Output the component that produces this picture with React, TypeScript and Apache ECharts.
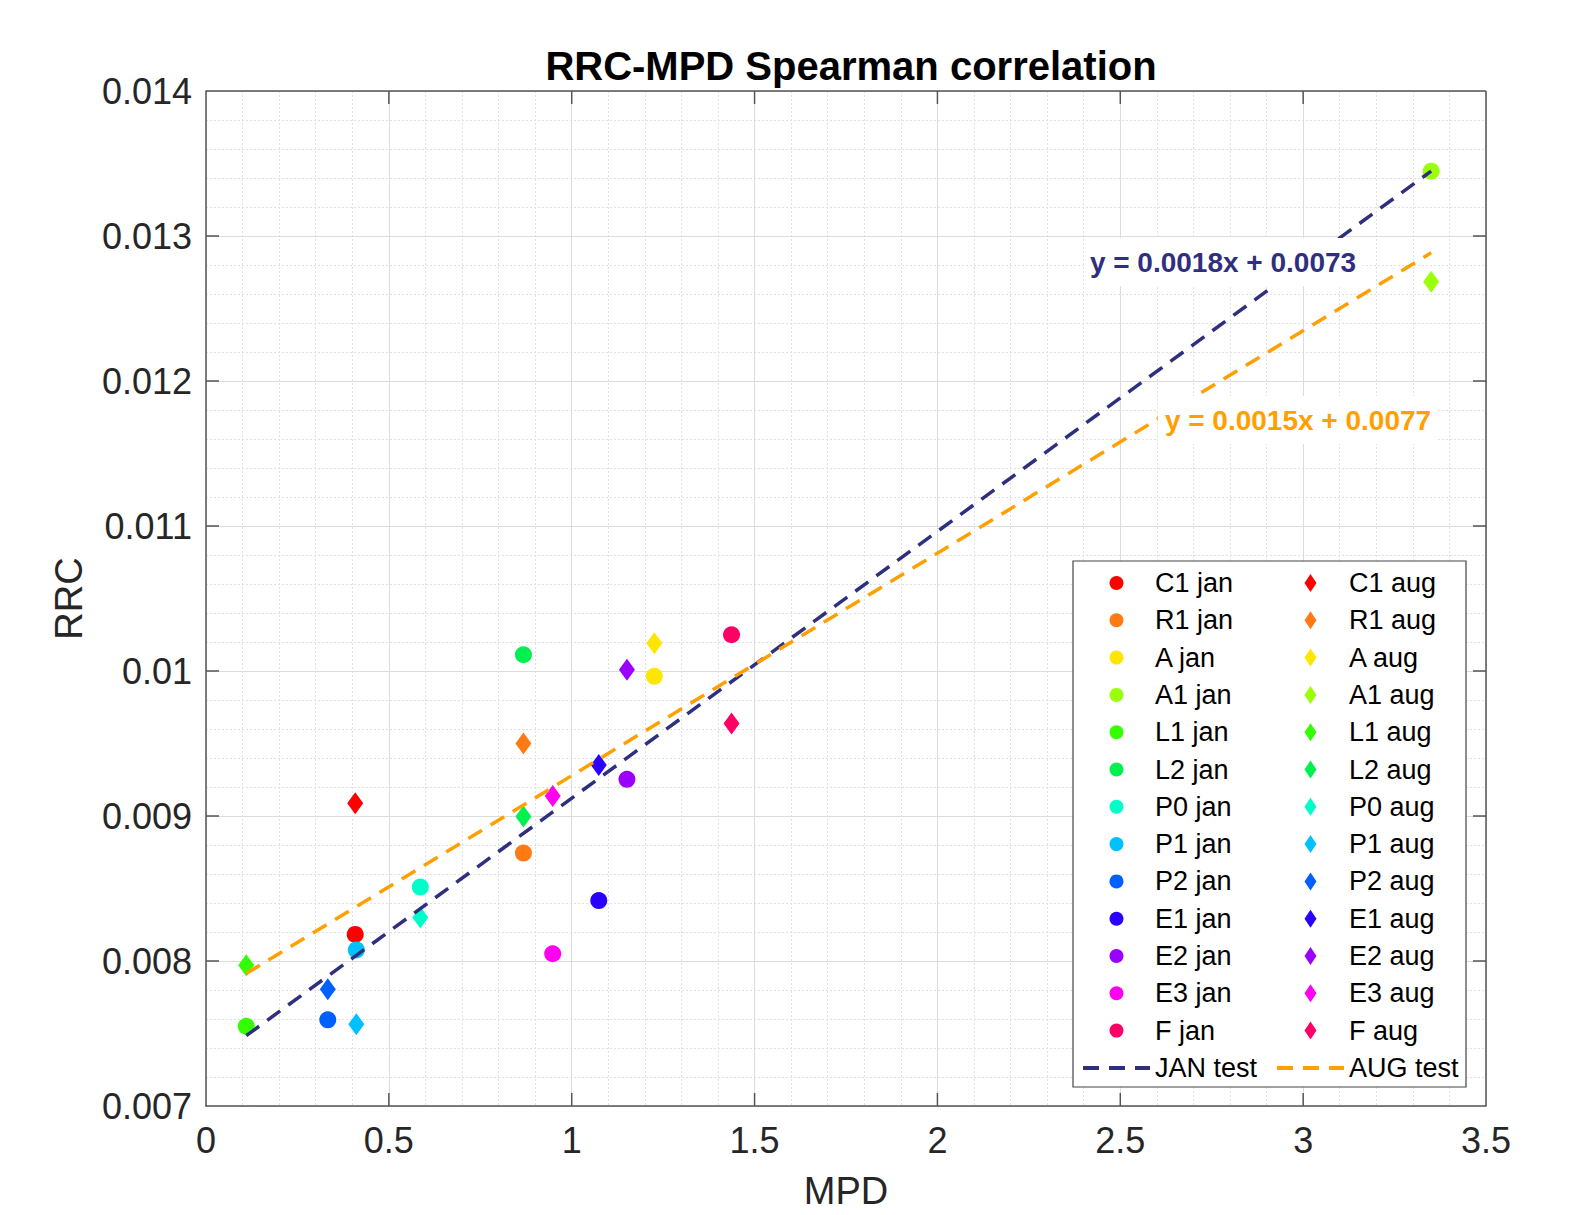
import React, { useEffect, useRef } from "react";
import * as echarts from "echarts";

const FONT = "Liberation Sans";

const siteNames = ["C1", "R1", "A", "A1", "L1", "L2", "P0", "P1", "P2", "E1", "E2", "E3", "F"];
const siteColors = [
  "#ff0000", "#ff7a14", "#ffe600", "#9cff0a", "#33ff00", "#00f050", "#00ffc8",
  "#00c0ff", "#0060ff", "#2a00ff", "#9900ff", "#ff00f0", "#ff0066",
];
const mpdValues = [0.408, 0.868, 1.226, 3.35, 0.11, 0.868, 0.586, 0.411, 0.333, 1.074, 1.151, 0.948, 1.437];
const rrcJan = [0.008183, 0.008744, 0.009963, 0.013447, 0.00755, 0.010112, 0.00851, 0.008076, 0.007594, 0.008417, 0.009253, 0.00805, 0.01025];
const rrcAug = [0.009088, 0.0095, 0.010192, 0.012685, 0.00797, 0.008997, 0.0083, 0.007564, 0.007805, 0.009351, 0.010009, 0.009138, 0.009638];

const janFitX = [0.11, 3.35];
const janFitY = [0.007485, 0.013447];
const augFitX = [0.11, 3.35];
const augFitY = [0.007913, 0.012884];

const janEquation = "y = 0.0018x + 0.0073";
const augEquation = "y = 0.0015x + 0.0077";

const xTicks = [0, 0.5, 1, 1.5, 2, 2.5, 3, 3.5];
const yTicks = [0.007, 0.008, 0.009, 0.01, 0.011, 0.012, 0.013, 0.014];

const JAN_COLOR = "#2f2f80";
const AUG_COLOR = "#ffa000";
const DIAMOND_ICON = "path://M6,0 L12,9 L6,18 L0,9 Z";
const TICK_LEN = 13;
const AXIS_COLOR = "#555";

export default function App() {
  const ref = useRef<HTMLDivElement>(null);

  useEffect(() => {
    document.body.style.margin = "0";
    const chart = echarts.init(ref.current!, null, { renderer: "svg" });

    const janSeries = siteNames.map((n, i) => ({
      name: `${n} jan`,
      type: "scatter",
      symbol: "circle",
      symbolSize: 17,
      z: 2,
      itemStyle: { color: siteColors[i], opacity: 1 },
      data: [[mpdValues[i], rrcJan[i]]],
    }));
    const augSeries = siteNames.map((n, i) => ({
      name: `${n} aug`,
      type: "scatter",
      symbol: "diamond",
      symbolSize: [16, 22],
      z: 2,
      itemStyle: { color: siteColors[i], opacity: 1 },
      data: [[mpdValues[i], rrcAug[i]]],
    }));
    const lineSeries = [
      {
        name: "JAN test",
        type: "line",
        symbol: "none",
        z: 4,
        lineStyle: { color: JAN_COLOR, width: 3.5, type: [16, 10] },
        itemStyle: { color: JAN_COLOR },
        data: janFitX.map((x, i) => [x, janFitY[i]]),
      },
      {
        name: "AUG test",
        type: "line",
        symbol: "none",
        z: 4,
        lineStyle: { color: AUG_COLOR, width: 3.5, type: [16, 10] },
        itemStyle: { color: AUG_COLOR },
        data: augFitX.map((x, i) => [x, augFitY[i]]),
      },
    ];

    const axisLineStyle = { color: AXIS_COLOR, width: 1.5 };
    const labelStyle = { fontFamily: FONT, fontSize: 36, color: "#262626" };
    const xMin = xTicks[0];
    const xMax = xTicks[xTicks.length - 1];
    const yMin = yTicks[0];
    const yMax = yTicks[yTicks.length - 1];

    const legendCommon = {
      orient: "vertical",
      top: 569.5,
      padding: 0,
      itemGap: 10.3,
      itemWidth: 67,
      selectedMode: false,
      textStyle: { fontFamily: FONT, fontSize: 27, lineHeight: 27, color: "#000" },
      lineStyle: { width: 4 },
    };
    const hiddenSymbol = { color: "rgba(0,0,0,0)", borderWidth: 0, opacity: 0 };

    const baseGraphics: any[] = [
      {
        id: "legendBox",
        type: "rect",
        z: 3,
        shape: { x: 1073, y: 561, width: 393, height: 526 },
        style: { fill: "#fff", stroke: "#444", lineWidth: 1.2 },
      },
      {
        id: "janEq",
        type: "text",
        z: 10,
        x: 1223,
        y: 262,
        style: {
          text: janEquation,
          fill: JAN_COLOR,
          font: `bold 28px "${FONT}"`,
          align: "center",
          verticalAlign: "middle",
          backgroundColor: "#fff",
          padding: [10, 6],
        },
      },
      {
        id: "augEq",
        type: "text",
        z: 10,
        x: 1298,
        y: 420,
        style: {
          text: augEquation,
          fill: AUG_COLOR,
          font: `bold 28px "${FONT}"`,
          align: "center",
          verticalAlign: "middle",
          backgroundColor: "#fff",
          padding: [10, 7],
        },
      },
    ];

    chart.setOption({
      animation: false,
      backgroundColor: "#fff",
      title: {
        text: "RRC-MPD Spearman correlation",
        left: 846,
        top: 41,
        textAlign: "center",
        textStyle: { fontFamily: FONT, fontSize: 40, fontWeight: "bold", color: "#000" },
      },
      grid: { left: 206, right: 84, top: 91, bottom: 107, containLabel: false },
      xAxis: {
        type: "value",
        min: xMin,
        max: xMax,
        interval: 0.5,
        name: "MPD",
        nameLocation: "middle",
        nameGap: 66,
        nameTextStyle: { fontFamily: FONT, fontSize: 38, color: "#262626" },
        axisLine: { show: true, lineStyle: axisLineStyle },
        axisTick: { show: false },
        axisLabel: { ...labelStyle, margin: 16 },
        splitLine: { show: true, lineStyle: { color: "#dcdcdc", width: 1 } },
        minorTick: { show: false, splitNumber: 5 },
        minorSplitLine: { show: true, lineStyle: { color: "#e0e0e0", width: 1, type: [2, 2] } },
      },
      yAxis: {
        type: "value",
        min: yMin,
        max: yMax,
        interval: 0.001,
        name: "RRC",
        nameLocation: "middle",
        nameGap: 118,
        nameTextStyle: { fontFamily: FONT, fontSize: 38, color: "#262626" },
        axisLine: { show: true, lineStyle: axisLineStyle },
        axisTick: { show: false },
        axisLabel: { ...labelStyle, margin: 14 },
        splitLine: { show: true, lineStyle: { color: "#dcdcdc", width: 1 } },
        minorTick: { show: false, splitNumber: 5 },
        minorSplitLine: { show: true, lineStyle: { color: "#e0e0e0", width: 1, type: [2, 2] } },
      },
      legend: [
        {
          ...legendCommon,
          left: 1081,
          itemHeight: 14,
          data: [
            ...siteNames.map((n) => ({ name: `${n} jan`, icon: "circle" })),
            { name: "JAN test", itemStyle: hiddenSymbol },
          ],
        },
        {
          ...legendCommon,
          left: 1275,
          itemHeight: 18,
          data: [
            ...siteNames.map((n) => ({ name: `${n} aug`, icon: DIAMOND_ICON })),
            { name: "AUG test", itemStyle: hiddenSymbol },
          ],
        },
      ],
      graphic: baseGraphics,
      series: [...janSeries, ...augSeries, ...lineSeries],
    });

    // Box edges (top, right) and inward tick marks on all four sides, placed through the axes' own scales.
    const px = (v: number) => chart.convertToPixel({ xAxisIndex: 0 }, v) as number;
    const py = (v: number) => chart.convertToPixel({ yAxisIndex: 0 }, v) as number;
    const left = px(xMin);
    const right = px(xMax);
    const bottom = py(yMin);
    const top = py(yMax);
    const lineStyle = { stroke: AXIS_COLOR, lineWidth: 1.5 };
    const extra: any[] = [
      { id: "boxTop", type: "line", z: 5, shape: { x1: left, y1: top, x2: right, y2: top }, style: lineStyle },
      { id: "boxRight", type: "line", z: 5, shape: { x1: right, y1: top, x2: right, y2: bottom }, style: lineStyle },
    ];
    xTicks.slice(1, -1).forEach((v, i) => {
      const x = px(v);
      extra.push({ id: `xb${i}`, type: "line", z: 5, shape: { x1: x, y1: bottom, x2: x, y2: bottom - TICK_LEN }, style: lineStyle });
      extra.push({ id: `xt${i}`, type: "line", z: 5, shape: { x1: x, y1: top, x2: x, y2: top + TICK_LEN }, style: lineStyle });
    });
    yTicks.slice(1, -1).forEach((v, i) => {
      const y = py(v);
      extra.push({ id: `yl${i}`, type: "line", z: 5, shape: { x1: left, y1: y, x2: left + TICK_LEN, y2: y }, style: lineStyle });
      extra.push({ id: `yr${i}`, type: "line", z: 5, shape: { x1: right, y1: y, x2: right - TICK_LEN, y2: y }, style: lineStyle });
    });
    chart.setOption({ graphic: [...baseGraphics, ...extra] });

    return () => chart.dispose();
  }, []);

  return <div ref={ref} style={{ width: 1570, height: 1215 }} />;
}
